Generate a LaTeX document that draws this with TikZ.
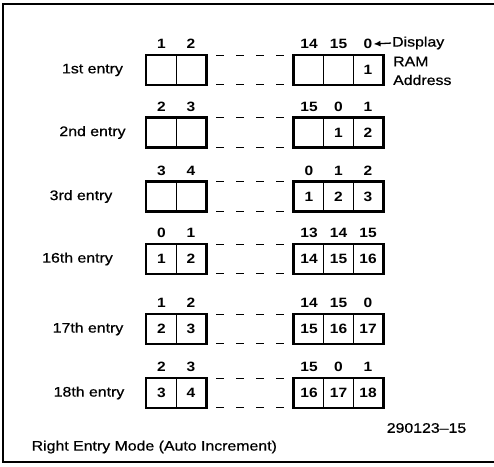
\documentclass[tikz,border=0pt]{standalone}
\usepackage{fontspec}
\setmainfont{Liberation Sans}[FakeStretch=1.15]
\newfontfamily\lblfont{Liberation Sans}[FakeStretch=1.15, FakeBold=0.7, Ligatures=TeX]
\usetikzlibrary{arrows.meta}

\begin{document}
\begin{tikzpicture}[x=1pt,y=-1pt,
  cell/.style={draw, line width=1.3pt, minimum width=29.5pt, minimum height=28.5pt,
    inner sep=0pt, font=\fontsize{13.5}{15}\selectfont\bfseries},
  addr/.style={inner sep=1pt, font=\fontsize{13.5}{15}\selectfont\bfseries},
  txt/.style={inner sep=0pt, font=\fontsize{13.8}{15}\lblfont},
  box/.style={line width=2.4pt},
  gap/.style={line width=1.1pt, dash pattern=on 8pt off 12pt, dash phase=10pt}]
  \useasboundingbox (0,0) rectangle (494,466);
  % frame, open on the right
  \draw[line width=1.6pt] (494,4) -- (3,4) -- (3,462) -- (494,462);

  \foreach \n/\yc/\lx/\lab/\aa/\ab/\ac/\ad/\ae/\ca/\cb/\cc/\cd/\ce in {
      1/70/92.5/1st entry/1/2/14/15/0/{}/{}/{}/{}/1,
      2/132.5/92.5/2nd entry/2/3/15/0/1/{}/{}/{}/1/2,
      3/196.5/81/3rd entry/3/4/0/1/2/{}/{}/1/2/3,
      4/259/77.5/16th entry/0/1/13/14/15/1/2/14/15/16,
      5/329/88/17th entry/1/2/14/15/0/2/3/15/16/17,
      6/393/89/18th entry/2/3/15/0/1/3/4/16/17/18} {
    \node[txt] (lab\n) at (\lx,\yc) {\lab};

    \node[cell] (c\n-a) at (161.5,\yc) {\ca};
    \node[cell] (c\n-b) at (191,\yc) {\cb};
    \node[cell] (c\n-c) at (309,\yc) {\cc};
    \node[cell] (c\n-d) at (338.5,\yc) {\cd};
    \node[cell] (c\n-e) at (368,\yc) {\ce};

    \node[addr] (a\n-a) at (161.5,\yc-26) {\aa};
    \node[addr] (a\n-b) at (191,\yc-26) {\ab};
    \node[addr] (a\n-c) at (309,\yc-26) {\ac};
    \node[addr] (a\n-d) at (338.5,\yc-26) {\ad};
    \node[addr] (a\n-e) at (368,\yc-26) {\ae};

    \draw[box] (c\n-a.north west) rectangle (c\n-b.south east);
    \draw[box] (c\n-c.north west) rectangle (c\n-e.south east);
    \draw[gap] (c\n-b.north east) -- (c\n-c.north west);
    \draw[gap] (c\n-b.south east) -- (c\n-c.south west);
  }

  \node[txt, anchor=west] (disp) at (392,43) {Display};
  \node[txt, anchor=west] (ram) at (393,61.5) {RAM};
  \node[txt, anchor=west] (adr) at (393,80) {Address};
  \draw[-{Latex[length=7pt,width=6pt]}, line width=1.3pt, shorten <=1pt] (disp.west) -- (a1-e.east);

  \node[txt] (fig) at (426.5,428) {290123–15};
  \node[txt, anchor=west] (cap) at (31.5,447) {Right Entry Mode (Auto Increment)};
\end{tikzpicture}
\end{document}
